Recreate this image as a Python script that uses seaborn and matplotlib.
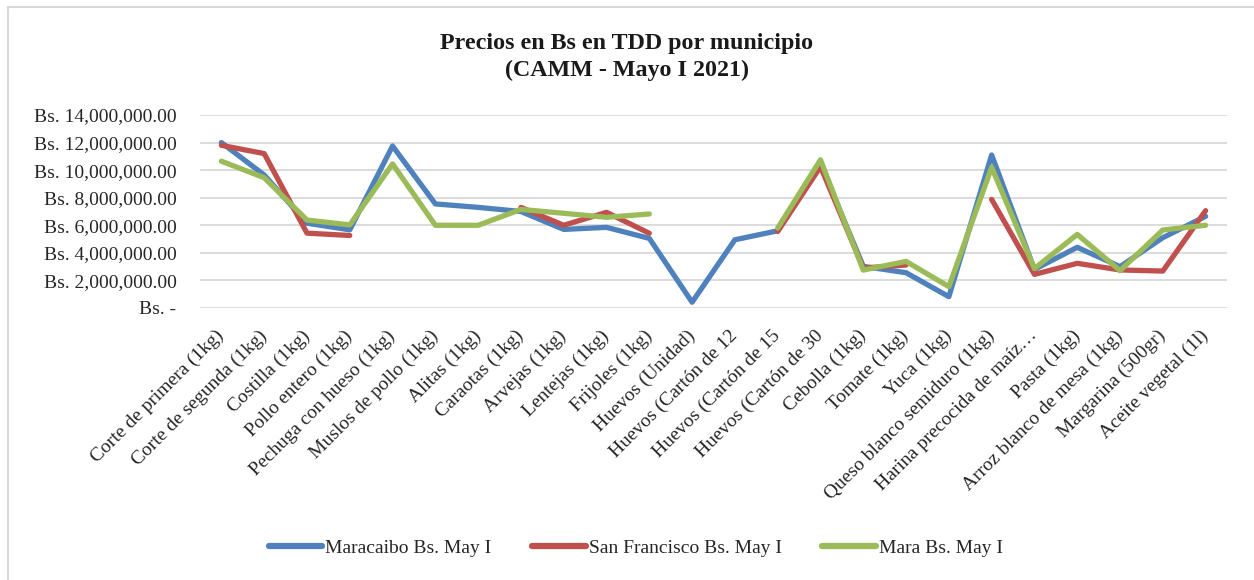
import numpy as np
import pandas as pd
import seaborn as sns
import matplotlib.pyplot as plt
from matplotlib.ticker import FuncFormatter, MultipleLocator
from matplotlib.lines import Line2D

# datos (millones de Bs.)
productos = [
    "Corte de primera (1kg)", "Corte de segunda (1kg)", "Costilla (1kg)",
    "Pollo entero (1kg)", "Pechuga con hueso (1kg)", "Muslos de pollo (1kg)",
    "Alitas (1kg)", "Caraotas (1kg)", "Arvejas (1kg)", "Lentejas (1kg)",
    "Frijoles (1kg)", "Huevos (Unidad)", "Huevos (Cartón de 12",
    "Huevos (Cartón de 15", "Huevos (Cartón de 30", "Cebolla (1kg)",
    "Tomate (1kg)", "Yuca (1kg)", "Queso blanco semiduro (1kg)",
    "Harina precocida de maíz…", "Pasta (1kg)", "Arroz blanco de mesa (1kg)",
    "Margarina (500gr)", "Aceite vegetal (1l)",
]
nan = np.nan
maracaibo = [12.0, 9.65, 6.15, 5.67, 11.75, 7.55, 7.3, 7.0, 5.7, 5.85, 5.05, 0.42,
             4.95, 5.6, 10.45, 3.02, 2.56, 0.82, 11.1, 2.8, 4.4, 3.0, 5.1, 6.65]
san_francisco = [11.8, 11.2, 5.43, 5.26, nan, nan, nan, 7.3, 6.0, 6.94, 5.42, nan,
                 nan, 5.55, 10.25, 2.9, 3.12, nan, 7.88, 2.44, 3.24, 2.76, 2.68, 7.06]
mara = [10.65, 9.45, 6.38, 6.03, 10.45, 6.0, 6.0, 7.15, 6.87, 6.58, 6.82, nan,
        nan, 5.8, 10.75, 2.75, 3.38, 1.55, 10.2, 2.86, 5.34, 2.71, 5.66, 6.0]
series = {
    "Maracaibo Bs. May I": maracaibo,
    "San Francisco Bs. May I": san_francisco,
    "Mara Bs. May I": mara,
}
colores = {
    "Maracaibo Bs. May I": "#4F81BD",
    "San Francisco Bs. May I": "#C0504D",
    "Mara Bs. May I": "#9BBB59",
}

# formato largo, con un id de tramo para que los huecos no se unan
rows = []
for name, vals in series.items():
    seg = 0
    prev_nan = False
    for i, v in enumerate(vals):
        if np.isnan(v):
            prev_nan = True
            continue
        if prev_nan:
            seg += 1
            prev_nan = False
        rows.append({"pos": i, "precio": v * 1e6, "serie": name, "tramo": seg})
df = pd.DataFrame(rows)

sns.set_style("white")
plt.rcParams['font.family'] = ['Liberation Serif', 'DejaVu Serif']

fig = plt.figure(figsize=(12.54, 5.80), dpi=100)
ax = fig.add_axes([200 / 1254, 1 - 308 / 580, 1027 / 1254, 193 / 580])

sns.lineplot(data=df, x="pos", y="precio", hue="serie", units="tramo",
             estimator=None, palette=colores, linewidth=3.8, sort=False,
             legend=False, ax=ax)
for ln in ax.get_lines():
    ln.set_solid_capstyle("round")
    ln.set_solid_joinstyle("round")

ax.set_xlim(-0.5, len(productos) - 0.5)
ax.set_ylim(0, 14e6)
ax.yaxis.set_major_locator(MultipleLocator(2e6))
ax.yaxis.set_major_formatter(FuncFormatter(
    lambda v, p: "Bs. -" if v == 0 else f"Bs. {v:,.2f}"))
ax.grid(axis="y", color="#D9D9D9", linewidth=1.3)
ax.set_axisbelow(True)
for s in ax.spines.values():
    s.set_visible(False)

ax.set_xticks(range(len(productos)))
ax.set_xticklabels(productos, rotation=45, ha="right", va="center",
                   rotation_mode="anchor", fontsize=14, color="#262626")
ax.tick_params(axis="x", length=0, pad=18)
ax.tick_params(axis="y", length=0, pad=17, labelsize=14, labelcolor="#262626")
ax.set_xlabel("")
ax.set_ylabel("")

fig.text(0.5, 1 - 57 / 580, "Precios en Bs en TDD por municipio\n(CAMM - Mayo I 2021)",
         ha="center", va="center", fontsize=17.3, fontweight="bold",
         linespacing=1.35, color="#1a1a1a")

handles = [Line2D([0], [0], color=c, lw=4.5, solid_capstyle="round") for c in colores.values()]
fig.legend(handles, list(colores.keys()), loc="center", ncol=3, frameon=False,
           bbox_to_anchor=(0.507, 1 - 548 / 580), fontsize=14, handlelength=2.75,
           handletextpad=0.15, columnspacing=2.1)

# borde del área del gráfico (sólo se ven el lado izquierdo y el superior)
fig.add_artist(Line2D([8 / 1254, 8 / 1254], [0, 1 - 7 / 580], transform=fig.transFigure,
                      color="#D9D9D9", linewidth=1.5))
fig.add_artist(Line2D([8 / 1254, 1], [1 - 7 / 580, 1 - 7 / 580], transform=fig.transFigure,
                      color="#D9D9D9", linewidth=1.5))

fig.savefig("out.png", dpi=100)
